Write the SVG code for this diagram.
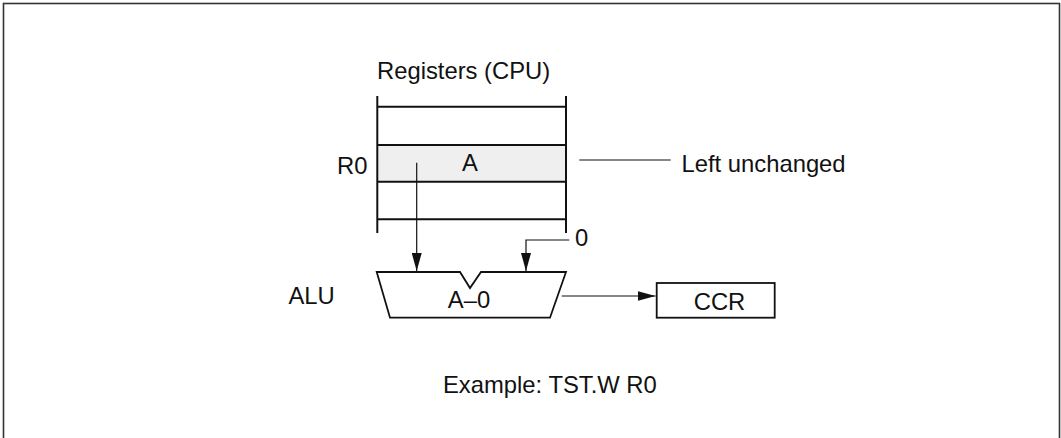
<svg xmlns="http://www.w3.org/2000/svg" width="1061" height="438" viewBox="0 0 1061 438">
<style>
text{font-family:"Liberation Sans",Arial,sans-serif;font-size:23.8px;fill:#111}
.reg{stroke:#111;stroke-width:2;fill:none}
.thin{stroke:#111;stroke-width:1.2;fill:none}
.box{stroke:#111;stroke-width:1.8;fill:#fff}
</style>
<defs>
<marker id="ah" viewBox="0 0 18 10" refX="18" refY="5" markerWidth="18" markerHeight="10" markerUnits="userSpaceOnUse" orient="auto">
<path d="M0,0 L18,5 L0,10 Z" fill="#111"/>
</marker>
</defs>
<rect x="3.5" y="3.5" width="1056" height="445" fill="#fff" stroke="#333" stroke-width="1.6"/>
<g id="registers">
<rect x="377.3" y="145" width="188.7" height="36.7" fill="#efefef"/>
<line class="reg" x1="377.3" y1="96" x2="377.3" y2="233"/>
<line class="reg" x1="566" y1="96" x2="566" y2="233"/>
<line class="reg" x1="377.3" y1="106.7" x2="566" y2="106.7"/>
<line class="reg" x1="377.3" y1="145" x2="566" y2="145"/>
<line class="reg" x1="377.3" y1="181.7" x2="566" y2="181.7"/>
<line class="reg" x1="377.3" y1="219.3" x2="566" y2="219.3"/>
<text x="377" y="79">Registers (CPU)</text>
<text x="470" y="171" text-anchor="middle">A</text>
<text x="337" y="174">R0</text>
</g>
<g id="alu">
<path class="box" d="M376.7,272 L460,272 L470,288 L481,272 L566,272 L550,317.7 L390,317.7 Z"/>
<text x="469" y="307.5" text-anchor="middle">A–0</text>
<text x="288.5" y="303.5">ALU</text>
</g>
<g id="ccr">
<rect class="box" x="656.7" y="283" width="118" height="34.7"/>
<text x="719.5" y="309.5" text-anchor="middle">CCR</text>
</g>
<g id="labels">
<text x="681.5" y="171.7">Left unchanged</text>
<text x="575" y="246">0</text>
<text x="443" y="392.7">Example: TST.W R0</text>
</g>
<g id="connectors">
<line class="thin" x1="416.7" y1="162.7" x2="416.7" y2="271" marker-end="url(#ah)"/>
<polyline class="thin" points="569.3,240 526,240 526,271" marker-end="url(#ah)"/>
<line class="thin" x1="561.7" y1="296" x2="655.5" y2="296" marker-end="url(#ah)"/>
<line class="thin" x1="579.3" y1="160" x2="670.7" y2="160"/>
</g>
</svg>
